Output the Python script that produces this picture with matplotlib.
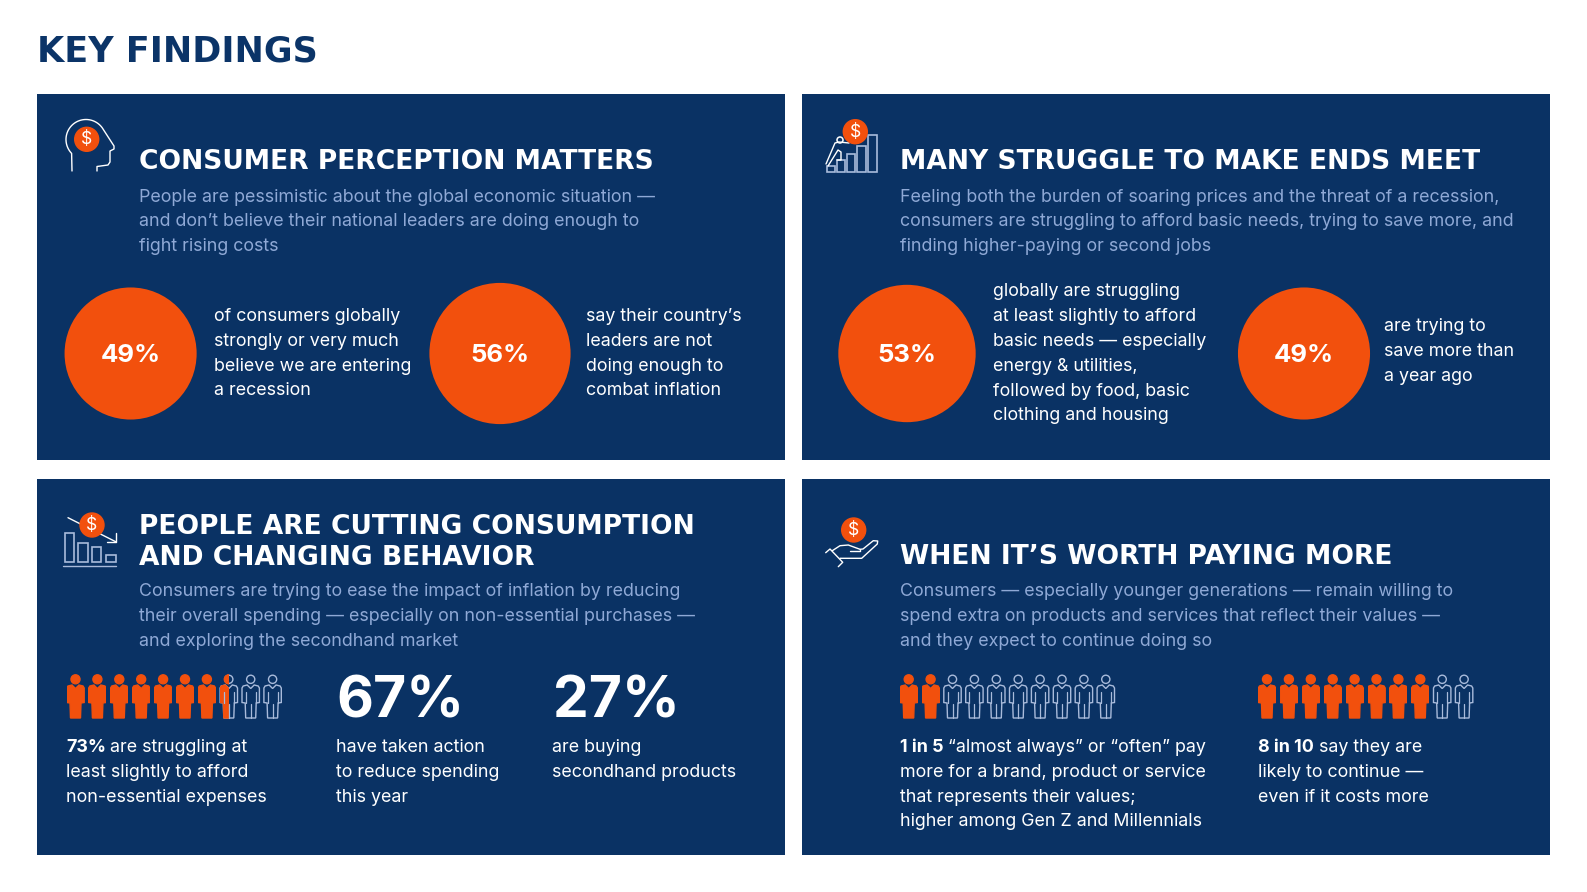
"""Key findings infographic, laid out in pixel coordinates of the 1587x892 page."""

import numpy as np
import matplotlib
matplotlib.use("Agg")
import matplotlib.pyplot as plt
from matplotlib.patches import Circle, Polygon, Rectangle

plt.rcParams["font.family"] = ["Inter", "DejaVu Sans"]

NAVY = "#0A3264"
ORANGE = "#F2500D"
PALE = "#8FA9D6"
OUTLINE = "#A9BBDB"

# circle stats: percent value, circle centre x, label x, first baseline, label lines
STAT_VALUES = [49, 56, 53, 49]
STAT_X = [130.6, 500, 907, 1304]
STAT_LABEL_X = [213.6, 586, 993, 1384]
STAT_LABEL_Y = [321, 321, 296.5, 331]
STAT_LABELS = [
    ["of consumers globally", "strongly or very much", "believe we are entering", "a recession"],
    ["say their country\u2019s", "leaders are not", "doing enough to", "combat inflation"],
    ["globally are struggling", "at least slightly to afford", "basic needs \u2014 especially",
     "energy & utilities,", "followed by food, basic", "clothing and housing"],
    ["are trying to", "save more than", "a year ago"],
]

# people rows: filled count out of 10, first person x
PEOPLE_FILLED = [7.5, 2, 8]
PEOPLE_X = [75.5, 908.7, 1267]

BIG_VALUES = [67, 27]
BIG_X = [336, 552.5]

HEADINGS = [
    (139, [(169, "CONSUMER PERCEPTION MATTERS")]),
    (900, [(169, "MANY STRUGGLE TO MAKE ENDS MEET")]),
    (139, [(534.5, "PEOPLE ARE CUTTING CONSUMPTION"), (565, "AND CHANGING BEHAVIOR")]),
    (900, [(564, "WHEN IT\u2019S WORTH PAYING MORE")]),
]
INTROS = [
    (139, 201.5, ["People are pessimistic about the global economic situation \u2014",
                  "and don\u2019t believe their national leaders are doing enough to",
                  "fight rising costs"]),
    (900, 201.5, ["Feeling both the burden of soaring prices and the threat of a recession,",
                  "consumers are struggling to afford basic needs, trying to save more, and",
                  "finding higher-paying or second jobs"]),
    (139, 596, ["Consumers are trying to ease the impact of inflation by reducing",
                "their overall spending \u2014 especially on non-essential purchases \u2014",
                "and exploring the secondhand market"]),
    (900, 596, ["Consumers \u2014 especially younger generations \u2014 remain willing to",
                "spend extra on products and services that reflect their values \u2014",
                "and they expect to continue doing so"]),
]
LOWER_TEXT = [
    (336, ["have taken action", "to reduce spending", "this year"]),
    (552.5, ["are buying", "secondhand products"]),
]
# bold lead-in, x of lead-in, x of the rest, rest of first line, following lines
LEAD_TEXT = [
    ("73%", 66, 110, "are struggling at", ["least slightly to afford", "non-essential expenses"]),
    ("1 in 5", 900, 948.5, "\u201calmost always\u201d or \u201coften\u201d pay",
     ["more for a brand, product or service", "that represents their values;",
      "higher among Gen Z and Millennials"]),
    ("8 in 10", 1258.5, 1319, "say they are", ["likely to continue \u2014", "even if it costs more"]),
]

LINE_STEP = 24.8
BODY_SIZE = 12.85
HEAD_FONT = ["DejaVu Sans"]


def lines(ax, x, y, rows, color="white", size=BODY_SIZE):
    for i, row in enumerate(rows):
        ax.text(x, y + i * LINE_STEP, row, color=color, fontsize=size, va="baseline")


def stroke(ax, xs, ys, lw=1.0, color="white"):
    ax.plot(xs, ys, color=color, lw=lw, solid_capstyle="round", solid_joinstyle="round")


def coin(ax, x, y, r=12):
    ax.add_patch(Circle((x, y), r, color=ORANGE, zorder=4))
    ax.text(x, y + 0.5, "$", color="white", fontsize=r * 1.05, ha="center", va="center", zorder=5)


def person(ax, cx, top, fill):
    """One pictogram figure; fill is the share of its width painted orange."""
    body = np.array([(-3.5, 10), (0, 13.5), (3.5, 10), (7.5, 11), (8.7, 13), (8.7, 27.5),
                     (5.5, 28), (5, 43), (-5, 43), (-5.5, 28), (-8.7, 27.5), (-8.7, 13),
                     (-7.5, 11)]) + (cx, top)
    if fill < 1:
        ax.add_patch(Polygon(body, closed=True, fill=False, ec=OUTLINE, lw=1.0))
        ax.add_patch(Circle((cx, top + 4.3), 4.1, fill=False, ec=OUTLINE, lw=1.0))
        for dx in (-5, 5):
            stroke(ax, [cx + dx] * 2, [top + 17, top + 28], 0.9, OUTLINE)
        stroke(ax, [cx, cx], [top + 29, top + 43], 0.9, OUTLINE)
    if fill > 0:
        clip = Rectangle((cx - 9, top - 1), 18 * fill, 46, transform=ax.transData)
        for patch in (Polygon(body, closed=True, color=ORANGE),
                      Circle((cx, top + 4.3), 4.5, color=ORANGE)):
            ax.add_patch(patch)
            patch.set_clip_path(clip)


def head_icon(ax):
    a = np.radians(np.linspace(224, 30, 60))
    xs = 86 + 20 * np.cos(a)
    ys = 139.5 - 20 * np.sin(a)
    stroke(ax, [72, *xs, 114, 114, 110, 110, 108, 97, 97],
           [171, *ys, 146, 149, 151, 162, 165, 166.5, 171])
    coin(ax, 86.7, 139.3)


def climb_icon(ax):
    for x, w, top in [(826.7, 8, 165.7), (837.3, 8, 160), (847.3, 8, 153.7),
                      (857.3, 8.4, 145.7), (868, 9.3, 135)]:
        ax.add_patch(Rectangle((x, top), w, 172.3 - top, fill=False, ec=OUTLINE, lw=1.2))
    stroke(ax, [826, 835, 839, 849], [164, 143, 142, 143])
    stroke(ax, [828, 838, 841, 841, 837], [166, 150, 152, 160, 160])
    ax.add_patch(Circle((840, 140), 3, fill=False, ec="white", lw=1.1))
    coin(ax, 855.3, 131.7)


def drop_icon(ax):
    for x, w, top in [(64.7, 9.3, 532.7), (78.3, 9.4, 543), (92, 9, 547.3), (105.7, 10, 555)]:
        ax.add_patch(Rectangle((x, top), w, 562.3 - top, fill=False, ec=OUTLINE, lw=1.2))
    stroke(ax, [63.3, 116], [566.3, 566.3], color=OUTLINE)
    stroke(ax, [68, 115.7], [517.7, 541.7])
    stroke(ax, [107.3, 115.7, 115.7], [541.7, 541.7, 533.3])
    coin(ax, 92, 525)


def hand_icon(ax):
    stroke(ax, [832.3, 840, 848.3, 860, 863, 873.3, 877.7, 877.3, 861.7, 840],
           [550.7, 545.7, 545, 549.3, 549, 540.7, 541, 544, 558.3, 558.3])
    stroke(ax, [850, 860, 860], [551, 551, 549.3])
    stroke(ax, [825.7, 830, 842.7, 838.3], [552.7, 549, 562.3, 566.7])
    coin(ax, 853.7, 530)


fig = plt.figure(figsize=(15.87, 8.92), dpi=100)
ax = fig.add_axes([0, 0, 1, 1])
ax.set_xlim(0, 1587)
ax.set_ylim(892, 0)
ax.axis("off")

ax.text(37, 61, "KEY FINDINGS", color="#0B3468", fontsize=25.2, fontweight="bold",
        family=HEAD_FONT, va="baseline")

for x0, y0, x1, y1 in [(37, 94, 785, 460), (802, 94, 1550, 460),
                       (37, 479, 785, 855), (802, 479, 1550, 855)]:
    ax.add_patch(Rectangle((x0, y0), x1 - x0, y1 - y0, color=NAVY, lw=0))

for x, rows in HEADINGS:
    for y, row in rows:
        ax.text(x, y, row, color="white", fontsize=19.1, fontweight="bold",
                family=HEAD_FONT, va="baseline")
for x, y, rows in INTROS:
    lines(ax, x, y, rows, color=PALE)

for v, cx, lx, ly, rows in zip(STAT_VALUES, STAT_X, STAT_LABEL_X, STAT_LABEL_Y, STAT_LABELS):
    # circle area follows the percentage
    ax.add_patch(Circle((cx, 353.5), np.sqrt(v * 89), color=ORANGE, lw=0))
    ax.text(cx, 353.5, f"{v}%", color="white", fontsize=18.5, fontweight="bold",
            ha="center", va="center_baseline")
    lines(ax, lx, ly, rows)

for filled, x0 in zip(PEOPLE_FILLED, PEOPLE_X):
    for i in range(10):
        person(ax, x0 + i * 21.9, 675, min(1, max(0, filled - i)))

for v, x in zip(BIG_VALUES, BIG_X):
    ax.text(x, 718, f"{v}%", color="white", fontsize=41, fontweight="bold", va="baseline")
for x, rows in LOWER_TEXT:
    lines(ax, x, 752, rows)
for lead, x, rest_x, rest, rows in LEAD_TEXT:
    ax.text(x, 752, lead, color="white", fontsize=BODY_SIZE, fontweight="bold", va="baseline")
    ax.text(rest_x, 752, rest, color="white", fontsize=BODY_SIZE, va="baseline")
    lines(ax, x, 752 + LINE_STEP, rows)

head_icon(ax)
climb_icon(ax)
drop_icon(ax)
hand_icon(ax)

fig.savefig("out.png", dpi=100, facecolor="white")
plt.close(fig)
